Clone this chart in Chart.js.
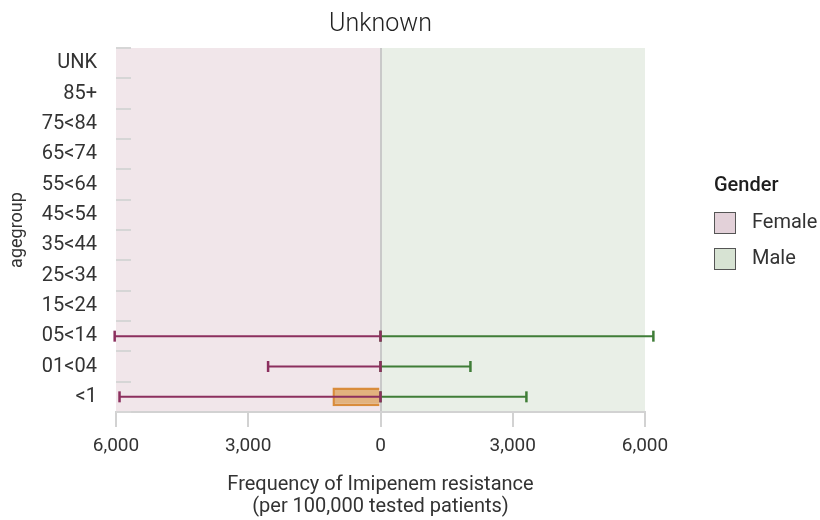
<!DOCTYPE html>
<html lang="en">
<head>
<meta charset="UTF-8">
<title>Imipenem resistance by age group - Unknown</title>
<script src="https://cdn.jsdelivr.net/npm/chart.js"></script>
<style>
    html, body { margin: 0; padding: 0; background: #fff; }
    #wrap { width: 820px; height: 520px; }
</style>
</head>
<body>
<div id="wrap"><canvas id="ageChart" width="820" height="520"></canvas></div>
<script>
    // age groups, top row first
    const ageGroups = ['UNK', '85+', '75<84', '65<74', '55<64', '45<54', '35<44', '25<34', '15<24', '05<14', '01<04', '<1'];

    // rate per 100,000 tested patients and upper confidence bound
    const femaleRate  = [null, null, null, null, null, null, null, null, null, 0, 0, 1090];
    const femaleUpper = [null, null, null, null, null, null, null, null, null, 6030, 2550, 5920];
    const maleRate    = [null, null, null, null, null, null, null, null, null, 0, 0, 0];
    const maleUpper   = [null, null, null, null, null, null, null, null, null, 6190, 2040, 3310];

    const legendItems = ['Female', 'Male'];

    const FONT = 'Roboto, "Noto Sans", sans-serif';
    const femaleBg = 'rgb(241,230,234)';
    const maleBg = 'rgb(233,239,231)';
    const femaleLine = '#8c2f5e';
    const maleLine = '#3f7d37';

    // pink/green halves behind the bars
    const panels = {
        id: 'panels',
        beforeDraw(chart) {
            const { ctx, chartArea: a, scales: { x } } = chart;
            const x0 = x.getPixelForValue(0);
            ctx.save();
            ctx.fillStyle = femaleBg;
            ctx.fillRect(a.left, a.top, x0 - a.left, a.bottom - a.top);
            ctx.fillStyle = maleBg;
            ctx.fillRect(x0, a.top, a.right - x0, a.bottom - a.top);
            ctx.restore();
        },
        beforeDatasetsDraw(chart) {
            // short marks on the left edge between the age groups
            const { ctx, chartArea: a, scales: { y } } = chart;
            const half = (y.getPixelForValue(1) - y.getPixelForValue(0)) / 2;
            ctx.save();
            ctx.strokeStyle = '#d6d6d6';
            ctx.lineWidth = 2;
            for (let i = 0; i <= ageGroups.length; i++) {
                const py = Math.round(y.getPixelForValue(i) - half);
                ctx.beginPath();
                ctx.moveTo(a.left, py);
                ctx.lineTo(a.left + 15, py);
                ctx.stroke();
            }
            ctx.restore();
        }
    };

    function drawRange(ctx, xs, y, from, to, color) {
        const p0 = xs.getPixelForValue(from);
        const p1 = xs.getPixelForValue(to);
        ctx.strokeStyle = color;
        ctx.lineWidth = 2;
        ctx.beginPath();
        ctx.moveTo(p0, y);
        ctx.lineTo(p1, y);
        ctx.stroke();
        ctx.lineWidth = 2.5;
        [p0, p1].forEach(p => {
            ctx.beginPath();
            ctx.moveTo(p, y - 5.5);
            ctx.lineTo(p, y + 5.5);
            ctx.stroke();
        });
    }

    const errorBars = {
        id: 'errorBars',
        afterDatasetsDraw(chart) {
            const { ctx, scales: { x, y } } = chart;
            ctx.save();
            ageGroups.forEach((g, i) => {
                const py = y.getPixelForValue(i);
                if (maleUpper[i] != null) drawRange(ctx, x, py, 0, maleUpper[i], maleLine);
                if (femaleUpper[i] != null) drawRange(ctx, x, py, 0, -femaleUpper[i], femaleLine);
            });
            ctx.restore();
        }
    };

    const genderLegend = {
        id: 'genderLegend',
        afterDraw(chart) {
            const { ctx, chartArea: a } = chart;
            const left = a.right + 69;
            ctx.save();
            ctx.textBaseline = 'middle';
            ctx.fillStyle = '#1e1e1e';
            ctx.font = '500 20px ' + FONT;
            ctx.fillText('Gender', left, 186);
            ctx.font = '20px ' + FONT;
            const fills = ['#e3d1d9', '#d7e3d3'];
            legendItems.forEach((name, i) => {
                const cy = 223 + i * 36;
                ctx.fillStyle = fills[i];
                ctx.fillRect(left, cy - 11, 22, 22);
                ctx.strokeStyle = '#555';
                ctx.lineWidth = 1;
                ctx.strokeRect(left + 0.5, cy - 10.5, 21, 21);
                ctx.fillStyle = '#333';
                ctx.fillText(name, left + 38, cy);
            });
            ctx.restore();
        }
    };

    new Chart(document.getElementById('ageChart'), {
        type: 'bar',
        data: {
            labels: ageGroups,
            datasets: [
                {
                    label: 'Female',
                    data: femaleRate.map(v => v == null ? null : -v),
                    backgroundColor: '#e2b27e',
                    borderColor: '#d98c3c',
                    borderWidth: 2.5
                },
                {
                    label: 'Male',
                    data: maleRate,
                    backgroundColor: '#c6d8c1',
                    borderWidth: 0
                }
            ]
        },
        options: {
            indexAxis: 'y',
            responsive: false,
            animation: false,
            devicePixelRatio: 1,
            layout: { padding: { top: 0, right: 175, bottom: 0, left: 0 } },
            datasets: { bar: { grouped: false, barPercentage: 0.62, categoryPercentage: 1 } },
            scales: {
                x: {
                    type: 'linear',
                    min: -6000,
                    max: 6000,
                    ticks: {
                        stepSize: 3000,
                        maxRotation: 0,
                        padding: 8,
                        color: '#333',
                        font: { family: FONT, size: 19 },
                        callback: v => Math.abs(v).toLocaleString('en-US')
                    },
                    grid: {
                        drawOnChartArea: true,
                        color: c => c.tick && c.tick.value === 0 ? '#c9c9c9' : 'rgba(0,0,0,0)',
                        tickColor: '#d2d2d2',
                        tickLength: 15,
                        lineWidth: 2
                    },
                    border: { display: true, color: '#d2d2d2', width: 2 },
                    title: {
                        display: true,
                        text: ['Frequency of Imipenem resistance', '(per 100,000 tested patients)'],
                        color: '#333',
                        font: { family: FONT, size: 20, lineHeight: 1.1 },
                        padding: { top: 0, bottom: 2 }
                    },
                    afterFit: s => { s.height = 108; }
                },
                y: {
                    type: 'category',
                    offset: true,
                    grid: { display: false, drawTicks: false },
                    border: { display: false },
                    ticks: {
                        padding: 19,
                        color: '#333',
                        font: { family: FONT, size: 20 }
                    },
                    title: {
                        display: true,
                        text: 'agegroup',
                        color: '#333',
                        font: { family: FONT, size: 18, lineHeight: 1.2 },
                        padding: { top: 7, bottom: 0 }
                    },
                    afterFit: s => { s.width = 116; }
                }
            },
            plugins: {
                legend: { display: false },
                tooltip: { enabled: false },
                title: {
                    display: true,
                    text: 'Unknown',
                    fullSize: false,
                    color: '#222',
                    font: { family: FONT, size: 25, weight: '300', lineHeight: 1.2 },
                    padding: { top: 10, bottom: 8 }
                }
            }
        },
        plugins: [panels, errorBars, genderLegend]
    });
</script>
</body>
</html>
